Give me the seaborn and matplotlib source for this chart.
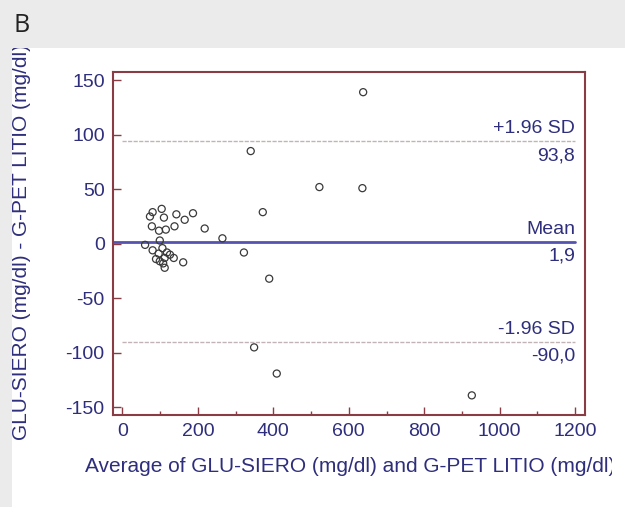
import numpy as np
import pandas as pd
import matplotlib.pyplot as plt
import seaborn as sns
from matplotlib.patches import Rectangle
from matplotlib.transforms import Bbox, TransformedBbox
from matplotlib.ticker import MultipleLocator

# Bland-Altman data
avg_glu = [638, 340, 522, 636, 372, 322, 389, 349, 409, 926,
           80, 104, 73, 110, 143, 165, 187, 218, 265, 78,
           97, 115, 138, 60, 99, 80, 106, 96, 118, 89,
           112, 136, 126, 99, 108, 112, 161]
diff_glu = [139, 85, 52, 51, 29, -8, -32, -95, -119, -139,
            29, 32, 25, 24, 27, 22, 28, 14, 5, 16,
            12, 13, 16, -1, 3, -6, -4, -9, -8, -14,
            -13, -13, -10, -16, -18, -22, -17]

mean_diff = 1.9
upper_loa = 93.8
lower_loa = -90.0
line_end = 1200

x_ticks = [0, 200, 400, 600, 800, 1000, 1200]
y_ticks = [-150, -100, -50, 0, 50, 100, 150]

df = pd.DataFrame({'avg': avg_glu, 'diff': diff_glu})

sns.set_theme(style='white')
plt.rcParams['font.family'] = ['Liberation Sans', 'DejaVu Sans']
plt.rcParams['axes.unicode_minus'] = False

spine_col = '#8a3c44'
text_col = '#2e2e7c'

fig = plt.figure(figsize=(6.25, 5.07), dpi=100)
fig.patch.set_facecolor('#ebebeb')
panel = Rectangle((12 / 625, 0), 1, (507 - 48) / 507, transform=fig.transFigure,
                  facecolor='white', edgecolor='none', zorder=-5)
fig.patches.append(panel)

ax = fig.add_axes([113 / 625, 1 - 415 / 507, (585 - 113) / 625, (415 - 72) / 507])
ax.set_facecolor('none')

sns.scatterplot(data=df, x='avg', y='diff', ax=ax, marker='o', s=26,
                facecolor='none', edgecolor='#3a3a3a', linewidth=0.9, zorder=3)

ax.set_xlim(-25, 1226)
ax.set_ylim(-157, 157.5)

ax.plot([-25, line_end], [mean_diff, mean_diff], color='#5454b0', lw=2, zorder=2)
for v in (upper_loa, lower_loa):
    ax.plot([0, line_end], [v, v], color='#c2b4b6', lw=1, ls=(0, (3, 1)), zorder=2)

def fmt(v):
    return f'{v:.1f}'.replace('.', ',')

for v, lab in [(upper_loa, '+1.96 SD'), (mean_diff, 'Mean'), (lower_loa, '-1.96 SD')]:
    ax.annotate(lab, (line_end, v), xytext=(0, 3), textcoords='offset points',
                ha='right', va='bottom', fontsize=14, color=text_col)
    ax.annotate(fmt(v), (line_end, v), xytext=(0, -4), textcoords='offset points',
                ha='right', va='top', fontsize=14, color=text_col)

ax.set_xticks(x_ticks)
ax.set_yticks(y_ticks)
ax.xaxis.set_minor_locator(MultipleLocator(100))
ax.tick_params(axis='both', which='major', direction='in', length=6, width=1,
               color=spine_col, labelcolor=text_col, labelsize=14, pad=6)
ax.tick_params(axis='x', which='minor', direction='in', length=3, width=1,
               color=spine_col, bottom=True)
ax.tick_params(left=True, bottom=True, top=False, right=False)
for s in ax.spines.values():
    s.set_visible(True)
    s.set_color(spine_col)
    s.set_linewidth(1.5)
ax.set_xlabel('')
ax.set_ylabel('')

clip_y = TransformedBbox(Bbox([[12 / 625, 0], [1, (507 - 48) / 507]]), fig.transFigure)
ylab = fig.text(22 / 625, 1 - 440 / 507, 'GLU-SIERO (mg/dl) - G-PET LITIO (mg/dl)',
                rotation=90, ha='center', va='bottom', fontsize=15, color=text_col)
ylab.set_clip_box(clip_y)
ylab.set_clip_on(True)

clip_x = TransformedBbox(Bbox([[0, 0], [612 / 625, 1]]), fig.transFigure)
xlab = fig.text(85 / 625, 1 - 466 / 507, 'Average of GLU-SIERO (mg/dl) and G-PET LITIO (mg/dl)',
                ha='left', va='center', fontsize=15, color=text_col)
xlab.set_clip_box(clip_x)
xlab.set_clip_on(True)

fig.text(14 / 625, 1 - 26 / 507, 'B', ha='left', va='center', fontsize=18,
         color='#222222', family='Open Sans')

fig.savefig('out.png', dpi=100, facecolor=fig.get_facecolor())
